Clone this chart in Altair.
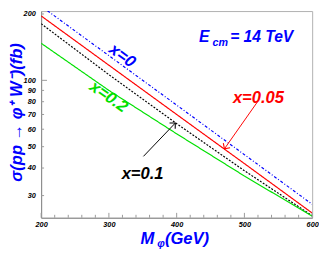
import altair as alt
import pandas as pd

# ---- data ----
mass = [200, 300, 400, 500, 600]
sig_x0 = [217.0, 129.4, 77.2, 46.0, 27.4]
sig_x005 = [196.0, 117.1, 70.0, 41.9, 25.0]
sig_x01 = [180.7, 106.1, 63.6, 38.9, 24.3]
sig_x02 = [147.3, 90.0, 57.2, 36.8, 24.2]
series = ["x=0", "x=0.05", "x=0.1", "x=0.2"]
series_colors = ["#0000ff", "#ff0000", "#000000", "#00e000"]

x_ticks = [200, 300, 400, 500, 600]
x_minor = [220, 240, 260, 280, 320, 340, 360, 380, 420, 440, 460, 480, 520, 540, 560, 580]
y_ticks = [30, 40, 50, 60, 70, 80, 90, 100, 200]
y_minor = [30, 40, 50, 60, 70, 80, 90, 200]
y_major = [100]

# labels inside the plot (data coordinates)
lab_text = ["x=0", "x=0.2", "x=0.05", "x=0.1"]
lab_M = [319.7, 299.5, 520.7, 349.7]
lab_sig = [129.1, 84.1, 83.2, 37.6]
lab_angle = [36, 35, 0, 0]
lab_color = ["#0000ff", "#00e000", "#ff0000", "#000000"]

ecm_text = ["E", "cm", "= 14 TeV"]
ecm_M = [433.0, 453.0, 479.0]
ecm_sig = [148.9, 143.7, 148.9]
ecm_size = [16, 11, 16]

# arrows (tail -> tip)
arr_M = [519.4, 351.0]
arr_sig = [80.0, 45.2]
arr_M2 = [470.5, 398.0]
arr_sig2 = [48.9, 64.0]
arr_color = ["#ff0000", "#000000"]
arr_angle = [34, 226]

FONT = "Liberation Sans"
W, H = 278, 212
xs = alt.Scale(domain=[200, 600], nice=False, zero=False)
ys = alt.Scale(type="log", domain=[23.8, 206.2], nice=False)

rows = []
for s, vals in zip(series, [sig_x0, sig_x005, sig_x01, sig_x02]):
    for m, v in zip(mass, vals):
        rows.append({"series": s, "M": m, "sigma": v})
df_lines = pd.DataFrame(rows)

x_axis = alt.Axis(values=x_ticks, title=None, ticks=False, grid=False, labelFont=FONT,
                  labelFontSize=7.5, labelFontStyle="italic", labelFontWeight="bold",
                  labelColor="black", labelPadding=3, domainColor="#888888", format="d",
                  labelFlush=False)
y_axis = alt.Axis(values=y_ticks, title=None, ticks=False, grid=False, labelFont=FONT,
                  labelFontSize=7.5, labelFontStyle="italic", labelFontWeight="bold",
                  labelColor="black", labelPadding=6, domainColor="#888888", format="d")


def X(field="M"):
    return alt.X(f"{field}:Q", scale=xs, axis=x_axis, title=None)


def Y(field="sigma"):
    return alt.Y(f"{field}:Q", scale=ys, axis=y_axis, title=None)


lines = alt.Chart(df_lines).mark_line(clip=True, strokeWidth=1.2).encode(
    x=X(), y=Y(),
    color=alt.Color("series:N", scale=alt.Scale(domain=series, range=series_colors), legend=None),
    strokeDash=alt.StrokeDash("series:N", scale=alt.Scale(domain=series,
                              range=[[3, 2, 1, 2], [1, 0], [2, 1.5], [1, 0]]), legend=None),
    detail="series:N",
)

# inward ticks
xmin_df = pd.DataFrame({"M": x_minor})
xmaj_df = pd.DataFrame({"M": x_ticks})
ymin_df = pd.DataFrame({"sigma": y_minor})
ymaj_df = pd.DataFrame({"sigma": y_major})
tick_col = "#999999"
xt_minor = alt.Chart(xmin_df).mark_rule(color=tick_col).encode(
    x=X(), y=alt.value(H), y2=alt.value(H - 3))
xt_major = alt.Chart(xmaj_df).mark_rule(color=tick_col).encode(
    x=X(), y=alt.value(H), y2=alt.value(H - 5))
yt_minor = alt.Chart(ymin_df).mark_rule(color=tick_col).encode(
    y=Y(), x=alt.value(0), x2=alt.value(3))
yt_major = alt.Chart(ymaj_df).mark_rule(color=tick_col).encode(
    y=Y(), x=alt.value(0), x2=alt.value(6))

# labels on curves
df_lab = pd.DataFrame({"t": lab_text, "M": lab_M, "sigma": lab_sig,
                       "angle": lab_angle, "col": lab_color})
labels = alt.Chart(df_lab).mark_text(font=FONT, fontSize=17, fontWeight="bold",
                                     fontStyle="italic", align="center", baseline="middle").encode(
    x=X(), y=Y(),
    text="t:N", angle=alt.Angle("angle:Q", scale=None), color=alt.Color("col:N", scale=None))

df_ecm = pd.DataFrame({"t": ecm_text, "M": ecm_M, "sigma": ecm_sig, "fs": ecm_size})
ecm = alt.Chart(df_ecm).mark_text(font=FONT, fontWeight="bold", fontStyle="italic",
                                  align="left", baseline="alphabetic", color="#0000ff").encode(
    x=X(), y=Y(), text="t:N", size=alt.Size("fs:Q", scale=None))

df_arr = pd.DataFrame({"M": arr_M, "sigma": arr_sig, "M2": arr_M2, "sigma2": arr_sig2,
                       "col": arr_color, "angle": arr_angle})
arrows = alt.Chart(df_arr).mark_rule(strokeWidth=1).encode(
    x=X(), y=Y(), x2="M2:Q", y2="sigma2:Q", color=alt.Color("col:N", scale=None))
heads = alt.Chart(df_arr).mark_point(shape="M -1 -1 L 0 0 L 1 -1", filled=False,
                                     size=70, strokeWidth=1.1, opacity=1).encode(
    x=X("M2"), y=Y("sigma2"),
    color=alt.Color("col:N", scale=None), angle=alt.Angle("angle:Q", scale=None))

# axis titles (outside the plot area)
ytitle_df = pd.DataFrame({"t": ["σ(pp → φ⁺ W⁻)(fb)"]})
ytitle = alt.Chart(ytitle_df).mark_text(font=FONT, fontSize=17, fontWeight="bold",
                                        fontStyle="italic", color="#0000ff", angle=270,
                                        align="center", baseline="middle").encode(
    text="t:N", x=alt.value(-25), y=alt.value(104))

xt_df = pd.DataFrame({"t": ["M"]})
xt_sub = pd.DataFrame({"t": ["φ"]})
xt_rest = pd.DataFrame({"t": ["(GeV)"]})
xtitle1 = alt.Chart(xt_df).mark_text(font=FONT, fontSize=17, fontWeight="bold",
                                     fontStyle="italic", color="#0000ff", align="left",
                                     baseline="alphabetic").encode(
    text="t:N", x=alt.value(102), y=alt.value(239))
xtitle2 = alt.Chart(xt_sub).mark_text(font=FONT, fontSize=11, fontWeight="bold",
                                      fontStyle="italic", color="#0000ff", align="left",
                                      baseline="alphabetic").encode(
    text="t:N", x=alt.value(119), y=alt.value(242))
xtitle3 = alt.Chart(xt_rest).mark_text(font=FONT, fontSize=17, fontWeight="bold",
                                       fontStyle="italic", color="#0000ff", align="left",
                                       baseline="alphabetic").encode(
    text="t:N", x=alt.value(127), y=alt.value(239))

chart = alt.layer(
    lines, xt_minor, xt_major, yt_minor, yt_major, labels, ecm, arrows, heads,
    ytitle, xtitle1, xtitle2, xtitle3,
).properties(
    width=W, height=H,
    autosize=alt.AutoSizeParams(type="none"),
    padding={"left": 34, "top": 0, "right": 7, "bottom": 32},
).configure_view(stroke="#b0b0b0", strokeWidth=1)

chart.save("out.html", embed_options={"renderer": "svg", "actions": False})
